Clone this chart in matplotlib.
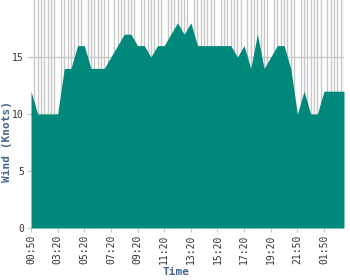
import matplotlib.pyplot as plt
import numpy as np

# vertices of the wind curve: category index -> knots
idx = [0, 2, 8, 10, 12, 14, 16, 18, 22, 28, 30, 32, 34, 36, 38, 40, 44, 46,
       48, 50, 60, 62, 64, 66, 68, 70, 72, 74, 76, 78, 80, 82, 84, 86, 88, 94]
wind = [12, 10, 10, 14, 14, 16, 16, 14, 14, 17, 17, 16, 16, 15, 16, 16, 18, 17,
        18, 16, 16, 15, 16, 14, 17, 14, 15, 16, 16, 14, 10, 12, 10, 10, 12, 12]

n_points = 95
labels = ['00:50', '03:20', '05:20', '07:20', '09:20', '11:20',
          '13:20', '15:20', '17:20', '19:20', '21:50', '01:50']
label_step = 8

FILL = '#00897B'
GRID = '#c8c8c8'
LABEL = '#44648e'
mono = 'DejaVu Sans Mono'

fig = plt.figure(figsize=(3.5, 2.8), dpi=100)
ax = fig.add_axes([31/350, 52/280, 313/350, 228/280])

ax.fill_between(idx, wind, 0, color=FILL, linewidth=0, zorder=2)

ax.set_xlim(0, n_points - 1)
ax.set_ylim(0, 20)

ax.set_xticks(np.arange(0, len(labels) * label_step, label_step))
ax.set_xticklabels(labels, rotation=90, family=mono, fontsize=7, color='#333333')
ax.set_xticks(np.arange(n_points), minor=True)
ax.set_yticks([0, 5, 10, 15])
ax.set_yticklabels(['0', '5', '10', '15'], family=mono, fontsize=7, color='#333333')

ax.grid(True, which='minor', axis='x', color=GRID, linewidth=1, zorder=1)
ax.grid(True, which='major', axis='y', color=GRID, linewidth=1, zorder=1)
ax.set_axisbelow(True)
ax.tick_params(which='minor', length=0)
ax.tick_params(which='major', length=3, color=GRID, pad=2)

for s in ax.spines.values():
    s.set_visible(False)

fig.text(7/350, 1 - 141/280, 'Wind (Knots)', rotation=90, ha='center', va='center',
         family=mono, fontsize=8, fontweight='bold', color=LABEL)
fig.text(176/350, 1 - 272/280, 'Time', ha='center', va='center',
         family=mono, fontsize=8, fontweight='bold', color=LABEL)

fig.savefig('out.png', dpi=100)
